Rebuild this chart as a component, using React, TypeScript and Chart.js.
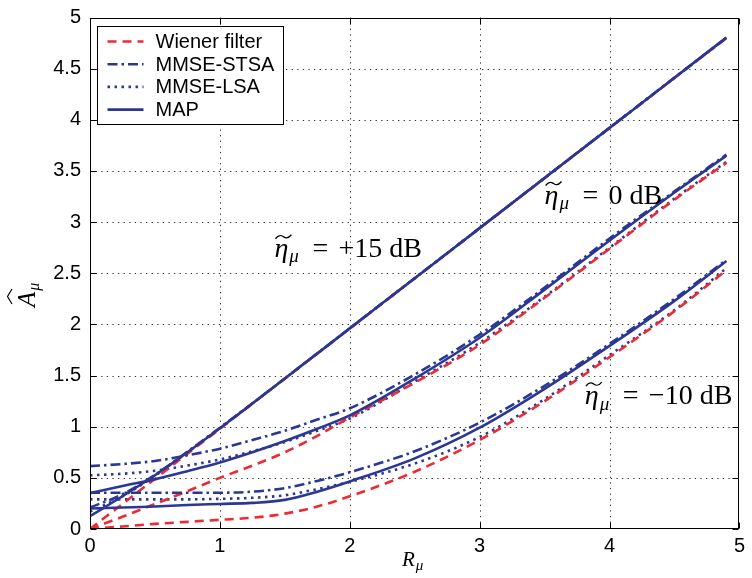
import React, { useEffect, useRef } from "react";
import { Chart, registerables } from "chart.js";
Chart.register(...registerables);

// ---- data ----
const R = [0, 0.25, 0.5, 0.75, 1, 1.25, 1.5, 1.75, 2, 2.5, 3, 3.5, 4, 4.5, 4.9];

// eta = +15 dB
const wiener15 = [0, 0.245, 0.49, 0.735, 0.98, 1.225, 1.47, 1.715, 1.96, 2.45, 2.94, 3.43, 3.92, 4.41, 4.8];
const stsa15 = [0.21, 0.34, 0.53, 0.755, 0.99, 1.228, 1.472, 1.717, 1.962, 2.452, 2.942, 3.432, 3.922, 4.412, 4.802];
const lsa15 = [0.17, 0.32, 0.52, 0.75, 0.985, 1.226, 1.471, 1.716, 1.961, 2.451, 2.941, 3.431, 3.921, 4.411, 4.801];
const map15 = [0.125, 0.32, 0.525, 0.75, 0.985, 1.227, 1.471, 1.716, 1.961, 2.451, 2.941, 3.431, 3.921, 4.411, 4.805];

// eta = 0 dB
const wiener0 = [0, 0.12, 0.245, 0.37, 0.5, 0.62, 0.75, 0.91, 1.09, 1.43, 1.8, 2.26, 2.74, 3.22, 3.58];
const stsa0 = [0.615, 0.635, 0.665, 0.72, 0.785, 0.87, 0.96, 1.07, 1.18, 1.51, 1.9, 2.36, 2.84, 3.3, 3.66];
const lsa0 = [0.525, 0.54, 0.57, 0.62, 0.68, 0.76, 0.85, 0.96, 1.08, 1.44, 1.82, 2.27, 2.75, 3.23, 3.59];
const map0 = [0.35, 0.42, 0.485, 0.565, 0.65, 0.75, 0.86, 0.98, 1.11, 1.47, 1.87, 2.34, 2.82, 3.29, 3.65];

// eta = -10 dB
const wiener10 = [0, 0.025, 0.05, 0.07, 0.09, 0.11, 0.15, 0.22, 0.32, 0.56, 0.87, 1.25, 1.68, 2.13, 2.53];
const stsa10 = [0.355, 0.355, 0.355, 0.355, 0.355, 0.365, 0.4, 0.47, 0.555, 0.76, 1.04, 1.4, 1.81, 2.25, 2.63];
const lsa10 = [0.29, 0.29, 0.29, 0.29, 0.295, 0.305, 0.33, 0.39, 0.46, 0.64, 0.9, 1.27, 1.7, 2.14, 2.55];
const map10 = [0.2, 0.21, 0.22, 0.235, 0.245, 0.255, 0.285, 0.365, 0.465, 0.69, 0.99, 1.37, 1.79, 2.23, 2.62];

const xTicks = [0, 1, 2, 3, 4, 5];
const yTicks = [0, 0.5, 1, 1.5, 2, 2.5, 3, 3.5, 4, 4.5, 5];

const legendLabels = ["Wiener filter", "MMSE-STSA", "MMSE-LSA", "MAP"];
const annotations = [
  { x: 1.42, y: 2.66, text: "+15 dB" },
  { x: 3.5, y: 3.18, text: "0 dB" },
  { x: 3.81, y: 1.22, text: "\u221210 dB" },
];

const RED = "#ee2a33";
const BLUE = "#2b3794";
const LW = 2.6;

const STYLES: Record<string, { color: string; dash: number[]; order: number }> = {
  wiener: { color: RED, dash: [9, 6], order: 2 },
  stsa: { color: BLUE, dash: [10, 4, 2.5, 4], order: 1 },
  lsa: { color: BLUE, dash: [2.5, 4.5], order: 3 },
  map: { color: BLUE, dash: [], order: 0 },
};
const legendKeys = ["wiener", "stsa", "lsa", "map"];

const SANS = "'Liberation Sans', Arial, Helvetica, sans-serif";
const SERIF = "'Liberation Serif', 'Times New Roman', serif";

function drawEta(ctx: CanvasRenderingContext2D, x0: number, y0: number, rest: string, size: number) {
  ctx.save();
  ctx.fillStyle = "#000";
  ctx.textBaseline = "alphabetic";
  ctx.textAlign = "left";
  ctx.font = `italic ${size}px ${SERIF}`;
  ctx.fillText("\u03b7", x0, y0);
  const wEta = ctx.measureText("\u03b7").width;
  // wide tilde above eta
  ctx.strokeStyle = "#000";
  ctx.lineWidth = 1.3;
  ctx.beginPath();
  const ty = y0 - size * 0.72;
  const tx0 = x0 + 1;
  const tx1 = x0 + wEta + 3;
  const tw = tx1 - tx0;
  ctx.moveTo(tx0, ty + 2);
  ctx.bezierCurveTo(tx0 + tw * 0.25, ty - 3, tx0 + tw * 0.4, ty - 1, tx0 + tw * 0.5, ty);
  ctx.bezierCurveTo(tx0 + tw * 0.6, ty + 1, tx0 + tw * 0.75, ty + 3, tx1, ty - 2);
  ctx.stroke();
  ctx.font = `italic ${Math.round(size * 0.68)}px ${SERIF}`;
  ctx.fillText("\u03bc", x0 + wEta + 1, y0 + size * 0.2);
  ctx.font = `${size}px ${SERIF}`;
  ctx.fillText("=", x0 + 38, y0);
  ctx.fillText(rest, x0 + 64, y0);
  ctx.restore();
}

const decor = {
  id: "decor",
  beforeDatasetsDraw(chart: any) {
    const { ctx, chartArea: a, scales } = chart;
    const xs = scales.x;
    const ys = scales.y;
    ctx.save();
    ctx.strokeStyle = "#333";
    ctx.lineWidth = 1;
    ctx.setLineDash([1.3, 4.3]);
    for (const v of xTicks) {
      const px = Math.round(xs.getPixelForValue(v)) + 0.5;
      if (px <= a.left + 1 || px >= a.right - 1) continue;
      ctx.beginPath();
      ctx.moveTo(px, a.top);
      ctx.lineTo(px, a.bottom);
      ctx.stroke();
    }
    for (const v of yTicks) {
      const py = Math.round(ys.getPixelForValue(v)) + 0.5;
      if (py <= a.top + 1 || py >= a.bottom - 1) continue;
      ctx.beginPath();
      ctx.moveTo(a.left, py);
      ctx.lineTo(a.right, py);
      ctx.stroke();
    }
    ctx.restore();
  },
  afterDatasetsDraw(chart: any) {
    const { ctx, chartArea: a, scales } = chart;
    const xs = scales.x;
    const ys = scales.y;
    ctx.save();
    ctx.strokeStyle = "#000";
    ctx.lineWidth = 1;
    ctx.setLineDash([]);
    const L = Math.round(a.left) + 0.5;
    const Rr = Math.round(a.right) - 0.5;
    const T = Math.round(a.top) + 0.5;
    const B = Math.round(a.bottom) - 0.5;
    ctx.strokeRect(L, T, Rr - L, B - T);
    const tl = 6;
    ctx.beginPath();
    for (const v of xTicks) {
      const px = Math.round(xs.getPixelForValue(v)) + 0.5;
      ctx.moveTo(px, B);
      ctx.lineTo(px, B - tl);
      ctx.moveTo(px, T);
      ctx.lineTo(px, T + tl);
    }
    for (const v of yTicks) {
      const py = Math.round(ys.getPixelForValue(v)) + 0.5;
      ctx.moveTo(L, py);
      ctx.lineTo(L + tl, py);
      ctx.moveTo(Rr, py);
      ctx.lineTo(Rr - tl, py);
    }
    ctx.stroke();
    ctx.restore();
  },
  afterDraw(chart: any) {
    const { ctx, chartArea: a, scales } = chart;
    const xs = scales.x;
    const ys = scales.y;
    // legend
    ctx.save();
    const bx = Math.round(a.left) + 7.5;
    const by = Math.round(a.top) + 8.5;
    const bw = 186;
    const bh = 98;
    ctx.fillStyle = "#fff";
    ctx.fillRect(bx, by, bw, bh);
    ctx.strokeStyle = "#000";
    ctx.lineWidth = 1;
    ctx.strokeRect(bx, by, bw, bh);
    ctx.font = `20px ${SANS}`;
    ctx.textBaseline = "middle";
    ctx.textAlign = "left";
    legendKeys.forEach((k, i) => {
      const st = STYLES[k];
      const yy = by + 15 + i * 22.7;
      ctx.strokeStyle = st.color;
      ctx.lineWidth = LW;
      ctx.setLineDash(st.dash);
      ctx.beginPath();
      ctx.moveTo(bx + 10, yy);
      ctx.lineTo(bx + 46, yy);
      ctx.stroke();
      ctx.setLineDash([]);
      ctx.fillStyle = "#000";
      ctx.fillText(legendLabels[i], bx + 58, yy + 1);
    });
    ctx.restore();

    // annotations
    for (const an of annotations) {
      drawEta(ctx, xs.getPixelForValue(an.x), ys.getPixelForValue(an.y), an.text, 28);
    }

    // x axis label R_mu
    ctx.save();
    ctx.fillStyle = "#000";
    ctx.textBaseline = "alphabetic";
    ctx.font = `italic 21px ${SERIF}`;
    ctx.fillText("R", 402, 566);
    const wR = ctx.measureText("R").width;
    ctx.font = `italic 15px ${SERIF}`;
    ctx.fillText("\u03bc", 402 + wR + 1, 570);
    ctx.restore();

    // y axis label A-hat_mu (rotated)
    ctx.save();
    ctx.translate(35, 307);
    ctx.rotate(-Math.PI / 2);
    ctx.fillStyle = "#000";
    ctx.textBaseline = "alphabetic";
    ctx.font = `italic 25px ${SERIF}`;
    ctx.fillText("A", 0, 0);
    const wA = ctx.measureText("A").width;
    // wide hat above A
    ctx.strokeStyle = "#000";
    ctx.lineWidth = 1.2;
    ctx.beginPath();
    ctx.moveTo(3, -23);
    ctx.lineTo(10.5, -27.5);
    ctx.lineTo(18, -23);
    ctx.stroke();
    ctx.font = `italic 16px ${SERIF}`;
    ctx.fillText("\u03bc", wA + 1, 4);
    ctx.restore();
  },
};

export default function App() {
  const ref = useRef<HTMLCanvasElement>(null);
  useEffect(() => {
    const canvas = ref.current;
    if (!canvas) return;
    const mk = (vals: number[]) => R.map((x, i) => ({ x, y: vals[i] }));
    const groups: Record<string, number[]>[] = [
      { wiener: wiener15, stsa: stsa15, lsa: lsa15, map: map15 },
      { wiener: wiener0, stsa: stsa0, lsa: lsa0, map: map0 },
      { wiener: wiener10, stsa: stsa10, lsa: lsa10, map: map10 },
    ];
    const datasets: any[] = [];
    groups.forEach((g) => {
      legendKeys.forEach((k) => {
        const st = STYLES[k];
        datasets.push({
          label: k,
          data: mk(g[k]),
          borderColor: st.color,
          borderDash: st.dash,
          borderWidth: LW,
          borderCapStyle: "butt",
          pointRadius: 0,
          fill: false,
          cubicInterpolationMode: "monotone",
          order: st.order,
        });
      });
    });
    const fmt = (v: any) => String(v);
    const chart = new Chart(canvas, {
      type: "line",
      data: { datasets },
      options: {
        responsive: false,
        animation: false,
        layout: { padding: { top: 9, right: 4, left: 0, bottom: 0 } },
        plugins: { legend: { display: false }, tooltip: { enabled: false } },
        scales: {
          x: {
            type: "linear",
            min: 0,
            max: 5,
            afterFit: (s: any) => {
              s.height = 49;
            },
            afterBuildTicks: (s: any) => {
              s.ticks = xTicks.map((v) => ({ value: v }));
            },
            grid: { display: false, drawTicks: false },
            border: { display: false },
            ticks: { color: "#000", padding: 7, callback: fmt, font: { family: SANS, size: 20, lineHeight: 1 } },
          },
          y: {
            type: "linear",
            min: 0,
            max: 5,
            afterFit: (s: any) => {
              s.width = 90;
            },
            afterBuildTicks: (s: any) => {
              s.ticks = yTicks.map((v) => ({ value: v }));
            },
            grid: { display: false, drawTicks: false },
            border: { display: false },
            ticks: { color: "#000", padding: 9, callback: fmt, font: { family: SANS, size: 20, lineHeight: 0.85 } },
          },
        },
      },
      plugins: [decor],
    });
    return () => chart.destroy();
  }, []);
  return (
    <div style={{ position: "fixed", left: 0, top: 0, width: 752, height: 578, background: "#fff" }}>
      <canvas ref={ref} width={752} height={578} style={{ display: "block" }} />
    </div>
  );
}
